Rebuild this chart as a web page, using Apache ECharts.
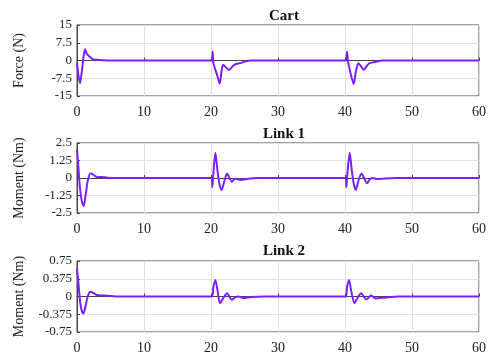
<!DOCTYPE html>
<html><head><meta charset="utf-8">
<script src="https://cdn.jsdelivr.net/npm/echarts@6/dist/echarts.min.js"></script>
<style>html,body{margin:0;padding:0;background:#fff}#c{width:489px;height:357px}</style>
</head><body><div id="c"></div>
<script>
const titles = ['Cart', 'Link 1', 'Link 2'];
const yNames = ['Force (N)', 'Moment (Nm)', 'Moment (Nm)'];
const xTicks = [0, 10, 20, 30, 40, 50, 60];
const yRanges = [[-15, 15, 7.5], [-2.5, 2.5, 1.25], [-0.75, 0.75, 0.375]];

const cartT = [0, 0.2, 0.45, 0.7, 1.0, 1.2, 1.5, 1.9, 2.4, 3, 4, 5,
  20, 20.15, 20.25, 20.35, 20.6, 20.9, 21.3, 21.55, 21.8, 22.1, 22.7, 23.2, 23.7, 24.5, 25.2, 26,
  40, 40.15, 40.3, 40.45, 40.8, 41.3, 41.6, 42.0, 42.4, 42.8, 43.2, 43.6, 44.5, 45.5, 60];
const cartF = [-1, -6, -9.6, -5, 2, 4.8, 2.6, 1.6, 0.4, 0.3, 0.1, 0,
  0, 0, 3.8, -1, -3.5, -6, -9.8, -5, -1.8, -2.5, -4, -2.5, -1.5, -1.0, -0.3, 0,
  0, 0, 3.7, -0.5, -5, -9.9, -5, -1.2, -2.5, -4, -2.5, -1.2, -0.6, 0, 0];

const link1T = [0, 0.15, 0.4, 0.7, 1.0, 1.3, 1.6, 2.0, 2.4, 3.0, 3.6, 4.5, 6,
  20.1, 20.2, 20.35, 20.65, 20.95, 21.25, 21.6, 22.0, 22.4, 22.75, 23.1, 23.6, 24.5, 25.5, 27,
  40.1, 40.2, 40.35, 40.7, 41.0, 41.3, 41.6, 42.0, 42.45, 42.85, 43.3, 43.7, 44.1, 44.8, 46, 47.5, 60];
const link1M = [2.0, 1.2, -0.5, -1.6, -2.0, -1.2, -0.2, 0.33, 0.25, 0.05, 0.08, 0.02, 0,
  0, -0.66, 0.3, 1.8, 0.6, -0.4, -0.86, -0.2, 0.33, 0, -0.26, -0.05, -0.14, -0.05, 0,
  0, -0.66, 0.3, 1.8, 0.6, -0.4, -0.86, -0.2, 0.33, 0, -0.38, -0.1, 0, -0.08, -0.03, 0, 0];

const link2T = [0, 0.2, 0.5, 0.75, 0.95, 1.2, 1.6, 2.0, 2.5, 3, 4, 6,
  20.1, 20.35, 20.65, 20.95, 21.35, 21.9, 22.4, 22.75, 23.1, 23.6, 24.1, 24.8, 26, 28,
  40.1, 40.3, 40.6, 40.95, 41.4, 41.9, 42.4, 42.8, 43.2, 43.9, 44.6, 46, 48, 60];
const link2M = [0.6, 0.3, -0.15, -0.32, -0.36, -0.25, 0.0, 0.1, 0.07, 0.03, 0.02, 0,
  0, 0.2, 0.35, 0.15, -0.14, -0.02, 0.07, 0, -0.07, -0.02, 0, -0.03, -0.01, 0,
  0, 0.2, 0.35, 0.1, -0.14, -0.02, 0.07, 0, -0.06, 0.02, -0.04, -0.02, 0, 0];

const seriesT = [cartT, link1T, link2T];
const seriesV = [cartF, link1M, link2M];

const font = 'Liberation Serif, Times New Roman, serif';
const tops = [25, 143, 261];
const heights = [71, 70, 71];
const titleTops = [4, 122, 239];

const grid = [], xAxis = [], yAxis = [], series = [], title = [];
for (let i = 0; i < 3; i++) {
  grid.push({left: 77, right: 8, top: tops[i], height: heights[i], show: true, borderColor: '#444', borderWidth: 1, backgroundColor: '#fff'});
  title.push({text: titles[i], left: 279, top: titleTops[i], textAlign: 'center',
    textStyle: {fontFamily: font, fontWeight: 'bold', fontSize: 15, color: '#111'}});
  xAxis.push({type: 'value', gridIndex: i, min: xTicks[0], max: xTicks[xTicks.length - 1], interval: 10,
    axisLine: {show: true, lineStyle: {color: '#444'}},
    axisTick: {show: true, inside: true, length: 3, lineStyle: {color: '#444'}},
    axisLabel: {fontFamily: font, fontSize: 14, color: '#222', margin: 9},
    splitLine: {show: true, lineStyle: {color: '#e0e0e0'}}});
  yAxis.push({type: 'value', gridIndex: i, min: yRanges[i][0], max: yRanges[i][1], interval: yRanges[i][2],
    name: yNames[i], nameLocation: 'middle', nameGap: 51,
    nameTextStyle: {fontFamily: font, fontSize: 14, color: '#222'},
    axisLine: {show: true, lineStyle: {color: '#444'}},
    axisTick: {show: true, inside: true, length: 3, lineStyle: {color: '#444'}},
    axisLabel: {fontFamily: font, fontSize: 13, color: '#222', margin: 5},
    splitLine: {show: true, lineStyle: {color: '#e0e0e0'}}});
  series.push({type: 'line', xAxisIndex: i, yAxisIndex: i, showSymbol: false, smooth: 0.25,
    lineStyle: {color: '#7b1fff', width: 2}, itemStyle: {color: '#7b1fff'},
    data: seriesT[i].map((t, k) => [t, seriesV[i][k]])});
}

const chart = echarts.init(document.getElementById('c'));
chart.setOption({animation: false, title, grid, xAxis, yAxis, series});
</script>
</body></html>
